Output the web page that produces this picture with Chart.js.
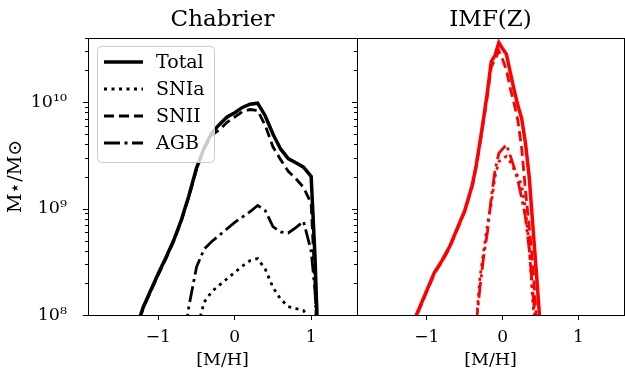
<!DOCTYPE html>
<html>
<head>
<meta charset="utf-8">
<script src="https://cdn.jsdelivr.net/npm/chart.js@4.4.1/dist/chart.umd.min.js"></script>
<style>
  body { margin: 0; background: #fff; }
  #wrap { position: relative; width: 625px; height: 374px; background: #fff; }
  canvas { position: absolute; top: 0; }
</style>
</head>
<body>
<div id="wrap">
  <canvas id="chabrier" width="360" height="374" style="left:0"></canvas>
  <canvas id="imfz" width="275" height="374" style="left:350px"></canvas>
</div>
<script>
// [M/H] grid and stellar mass per channel, Chabrier panel
var mhChabrier = [-1.3, -1.2, -1.1, -1.0, -0.9, -0.8, -0.7, -0.6, -0.5, -0.4, -0.3, -0.2, -0.1, 0.0,
                  0.1, 0.2, 0.3, 0.4, 0.5, 0.6, 0.7, 0.8, 0.9, 1.0, 1.05, 1.1];
var chabTotal = [7.08e7, 1.17e8, 1.70e8, 2.45e8, 3.47e8, 5.01e8, 7.76e8, 1.32e9, 2.40e9, 3.72e9, 5.13e9, 6.17e9, 7.24e9, 7.94e9,
                 8.91e9, 9.55e9, 9.77e9, 7.41e9, 5.01e9, 3.63e9, 2.95e9, 2.69e9, 2.45e9, 2.00e9, 3.55e8, 3.2e7];
var chabSNIa = [null, null, null, null, null, null, null, null, 7.08e7, 1.32e8, 1.66e8, 1.91e8, 2.19e8, 2.51e8,
                2.88e8, 3.24e8, 3.39e8, 2.69e8, 1.82e8, 1.41e8, 1.20e8, 1.15e8, 1.10e8, 8.71e7, null, null];
var chabSNII = [6.92e7, 1.15e8, 1.66e8, 2.40e8, 3.39e8, 4.90e8, 7.59e8, 1.29e9, 2.34e9, 3.63e9, 4.90e9, 5.50e9, 6.46e9, 7.24e9,
                8.13e9, 8.51e9, 8.32e9, 6.03e9, 3.80e9, 2.88e9, 2.24e9, 1.91e9, 1.58e9, 1.12e9, 2.0e8, 2.5e7];
var chabAGB = [null, null, null, null, null, null, 4.0e7, 1.20e8, 2.82e8, 4.17e8, 4.90e8, 5.62e8, 6.46e8, 7.41e8,
               8.32e8, 9.33e8, 1.07e9, 9.55e8, 6.76e8, 6.03e8, 5.89e8, 6.61e8, 7.59e8, 3.98e8, 1.70e8, 3.2e7];

// [M/H] grid and stellar mass per channel, IMF(Z) panel
var mhIMFZ = [-1.2, -1.1, -1.0, -0.9, -0.8, -0.7, -0.6, -0.5, -0.4, -0.35, -0.3, -0.25, -0.2, -0.15,
              -0.1, -0.05, 0.0, 0.05, 0.1, 0.15, 0.2, 0.25, 0.3, 0.35, 0.4, 0.45, 0.5, 0.55];
var imfzTotal = [7.94e7, 1.15e8, 1.70e8, 2.51e8, 3.24e8, 4.37e8, 6.46e8, 9.55e8, 1.66e9, 2.51e9, 4.17e9, 7.08e9, 1.26e10, 2.40e10,
                 2.75e10, 3.63e10, 3.16e10, 2.82e10, 1.91e10, 1.32e10, 9.33e9, 7.08e9, 4.17e9, 2.00e9, 6.61e8, 2.24e8, 7.08e7, null];
var imfzSNIa = [null, null, null, null, null, null, null, null, null, 7.94e7, 2.24e8, 3.98e8, 7.08e8, 1.12e9,
                2.00e9, 2.75e9, 2.95e9, 3.09e9, 2.75e9, 2.34e9, 2.00e9, 1.66e9, 1.00e9, 4.47e8, 1.26e8, 5.01e7, null, null];
var imfzSNII = [7.76e7, 1.12e8, 1.66e8, 2.45e8, 3.16e8, 4.27e8, 6.31e8, 9.33e8, 1.62e9, 2.45e9, 3.98e9, 6.76e9, 1.15e10, 2.14e10,
                2.51e10, 3.02e10, 2.51e10, 2.00e10, 1.35e10, 9.77e9, 6.76e9, 3.72e9, 1.51e9, 6.76e8, 2.82e8, 7.94e7, null, null];
var imfzAGB = [null, null, null, null, null, null, null, null, null, 7.94e7, 1.78e8, 3.55e8, 6.03e8, 1.26e9,
               2.29e9, 3.31e9, 3.63e9, 3.98e9, 3.16e9, 2.45e9, 1.86e9, 1.26e9, 8.32e8, 4.17e8, 1.58e8, 6.31e7, null, null];

var seriesLabels = ["Total", "SNIa", "SNII", "AGB"];
var yTickValues = [1e8, 1e9, 1e10];
var yTickLabels = ["10⁸", "10⁹", "10¹⁰"];

var FONT = "'DejaVu Serif', serif";
Chart.defaults.font.family = FONT;
Chart.defaults.color = '#000';

// line look of each channel: solid, dotted, dashed, dash-dot
var lineStyles = [
    { borderWidth: 3.5, borderDash: [] },
    { borderWidth: 2.8, borderDash: [3, 4.5] },
    { borderWidth: 2.8, borderDash: [10, 5] },
    { borderWidth: 2.8, borderDash: [16, 4.5, 3, 4.5] }
];

function pts(xs, ys) {
    return xs.map(function (x, i) { return { x: x, y: ys[i] }; });
}

function mantissa(v) {
    var e = Math.floor(Math.log10(v) + 1e-9);
    return v / Math.pow(10, e);
}

// box frame + log minor/major ticks on the y scale
var frameTicks = {
    id: 'frameTicks',
    afterDraw: function (chart) {
        var ctx = chart.ctx, a = chart.chartArea, y = chart.scales.y;
        ctx.save();
        ctx.strokeStyle = '#000';
        ctx.lineWidth = 1;
        y.ticks.forEach(function (t) {
            var m = mantissa(t.value);
            if (Math.abs(m - Math.round(m)) > 1e-6) return;
            var len = Math.abs(m - 1) < 1e-6 ? 5 : 3;
            var py = Math.round(y.getPixelForValue(t.value)) + 0.5;
            if (py < a.top || py > a.bottom + 1) return;
            ctx.beginPath();
            ctx.moveTo(a.left - len, py);
            ctx.lineTo(a.left, py);
            ctx.stroke();
        });
        ctx.strokeRect(a.left + 0.5, a.top + 0.5, a.right - a.left, a.bottom - a.top);
        ctx.restore();
    }
};

// legend in a translucent box drawn over the lines
var boxLegend = {
    id: 'boxLegend',
    afterDatasetsDraw: function (chart, args, opts) {
        if (!opts.show) return;
        var ctx = chart.ctx, a = chart.chartArea;
        var x = a.left + 9, y = a.top + 8, w = 117, h = 116;
        ctx.save();
        ctx.beginPath();
        ctx.roundRect(x + 0.5, y + 0.5, w, h, 4);
        ctx.fillStyle = 'rgba(255,255,255,0.8)';
        ctx.fill();
        ctx.strokeStyle = '#cccccc';
        ctx.lineWidth = 1;
        ctx.stroke();
        chart.data.datasets.forEach(function (ds, i) {
            var ly = y + 16 + i * 27;
            ctx.beginPath();
            ctx.setLineDash(ds.borderDash);
            ctx.lineWidth = ds.borderWidth;
            ctx.strokeStyle = ds.borderColor;
            ctx.moveTo(x + 7, ly);
            ctx.lineTo(x + 46, ly);
            ctx.stroke();
            ctx.setLineDash([]);
            ctx.fillStyle = '#000';
            ctx.font = '19px ' + FONT;
            ctx.textBaseline = 'middle';
            ctx.fillText(ds.label, x + 59, ly + 1);
        });
        ctx.restore();
    }
};

function makeChart(id, title, mh, series, color, first) {
    var datasets = series.map(function (vals, i) {
        return {
            label: seriesLabels[i],
            data: pts(mh, vals),
            borderColor: color,
            borderWidth: lineStyles[i].borderWidth,
            borderDash: lineStyles[i].borderDash,
            pointRadius: 0,
            tension: 0,
            fill: false,
            clip: 0,
            order: 4 - i
        };
    });
    return new Chart(document.getElementById(id), {
        type: 'line',
        data: { datasets: datasets },
        options: {
            responsive: false,
            animation: false,
            events: [],
            layout: { padding: { left: 0, right: first ? 3 : 1, top: 0, bottom: 0 } },
            scales: {
                x: {
                    type: 'linear',
                    min: -1.92,
                    max: 1.6,
                    grid: { display: true, drawOnChartArea: false, drawTicks: true, tickLength: 5, color: '#000', lineWidth: 1 },
                    border: { display: false },
                    ticks: {
                        stepSize: 1,
                        includeBounds: false,
                        maxRotation: 0,
                        padding: 7,
                        color: '#000',
                        font: { size: 17 },
                        callback: function (v) { return v < 0 ? '\u2212' + Math.abs(v) : String(v); }
                    },
                    title: { display: true, text: '[M/H]', color: '#000', font: { size: 17.5 }, padding: { top: 0, bottom: 3.5 } },
                    afterFit: function (s) { s.height = 59; }
                },
                y: {
                    type: 'logarithmic',
                    min: 1e8,
                    max: 4e10,
                    grid: { display: false },
                    border: { display: false },
                    ticks: {
                        display: first,
                        autoSkip: false,
                        padding: 13,
                        color: '#000',
                        font: { size: 17.5 },
                        callback: function (v) {
                            for (var k = 0; k < yTickValues.length; k++) {
                                if (Math.abs(v / yTickValues[k] - 1) < 1e-6) return yTickLabels[k];
                            }
                            return '';
                        }
                    },
                    title: { display: first, text: 'M\u22c6/M\u2299', color: '#000', font: { size: 19 }, padding: { top: 4.5, bottom: 0 } },
                    afterFit: function (s) { s.width = first ? 88 : 7; }
                }
            },
            plugins: {
                legend: { display: false },
                tooltip: { enabled: false },
                title: {
                    display: true,
                    text: title,
                    fullSize: false,
                    color: '#000',
                    font: { size: 23, weight: 'normal', lineHeight: 1.2 },
                    padding: { top: 6, bottom: 4.4 }
                },
                boxLegend: { show: first }
            }
        },
        plugins: [frameTicks, boxLegend]
    });
}

makeChart('chabrier', 'Chabrier', mhChabrier, [chabTotal, chabSNIa, chabSNII, chabAGB], '#000000', true);
makeChart('imfz', 'IMF(Z)', mhIMFZ, [imfzTotal, imfzSNIa, imfzSNII, imfzAGB], '#ff0000', false);
</script>
</body>
</html>
